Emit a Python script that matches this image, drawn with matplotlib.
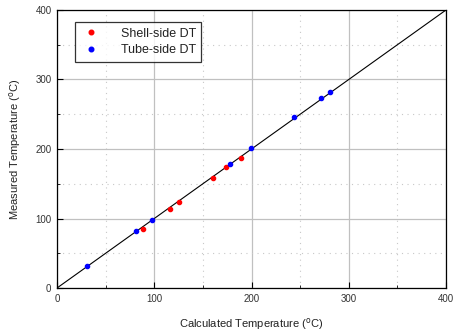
import matplotlib
matplotlib.use("Agg")
import matplotlib.pyplot as plt
from matplotlib.ticker import MultipleLocator

plt.rcParams['font.family'] = ['Liberation Sans', 'DejaVu Sans']

# Shell-side and tube-side thermocouple readings (calculated vs measured, degC)
shell_calc = [88, 116, 125, 160, 174, 189]
shell_meas = [85, 113, 124, 158, 174, 187]
tube_calc = [31, 81, 98, 178, 199, 244, 271, 281]
tube_meas = [32, 82, 98, 179, 201, 246, 274, 282]
axis_limits = [0, 400]

fig = plt.figure(figsize=(4.54, 3.33), dpi=100)
ax = fig.add_axes([0.1256, 0.1351, 0.8568, 0.8349])

ax.set_xlim(axis_limits)
ax.set_ylim(axis_limits)
ax.xaxis.set_major_locator(MultipleLocator(100))
ax.yaxis.set_major_locator(MultipleLocator(100))
ax.xaxis.set_minor_locator(MultipleLocator(50))
ax.yaxis.set_minor_locator(MultipleLocator(50))

ax.grid(which='major', color='#c0c0c0', linewidth=0.9, linestyle='-')
ax.grid(which='minor', color='#c8c8c8', linewidth=0.8, linestyle=(0, (1, 4)))
ax.set_axisbelow(True)

ax.tick_params(which='both', direction='in', top=False, right=False,
               labelsize=7, labelcolor='#333333', pad=4)
ax.tick_params(which='major', length=4, width=0.8)
ax.tick_params(which='minor', length=2, width=0.6)
for s in ax.spines.values():
    s.set_linewidth(0.9)

# Parity line
ax.plot(axis_limits, axis_limits, color='black', linewidth=0.8, zorder=2)

ax.plot(shell_calc, shell_meas, 'o', color='red', markersize=3.0,
        linestyle='none', label='Shell-side DT', zorder=3)
ax.plot(tube_calc, tube_meas, 'o', color='blue', markersize=3.0,
        linestyle='none', label='Tube-side DT', zorder=3)

leg = ax.legend(loc='upper left', bbox_to_anchor=(0.046, 0.957), fontsize=9,
                borderaxespad=0, frameon=True, fancybox=False,
                edgecolor='black', borderpad=0.45, handlelength=1.6,
                handletextpad=1.6, labelspacing=0.35, markerscale=1.1)
leg.get_frame().set_linewidth(0.9)
for t in leg.get_texts():
    t.set_color('#222222')

ax.set_xlabel(r'Calculated Temperature ($^{\mathrm{o}}$C)', fontsize=8,
              color='#222222', labelpad=9)
ax.set_ylabel(r'Measured Temperature ($^{\mathrm{o}}$C)', fontsize=8,
              color='#222222', labelpad=9)

fig.savefig('out.png', dpi=100)
